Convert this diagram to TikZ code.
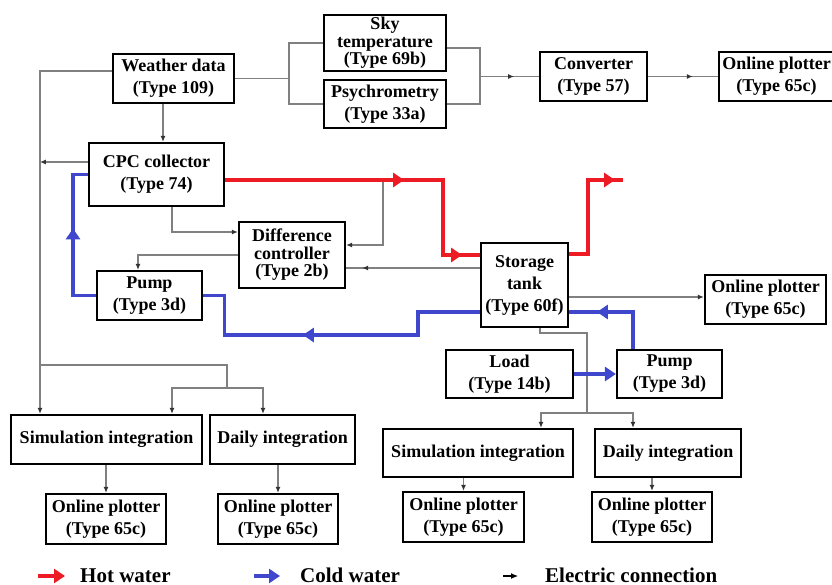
\documentclass[tikz,border=0pt]{standalone}
\usepackage{fontspec}
\setmainfont{Liberation Serif}
\usetikzlibrary{arrows.meta,decorations.markings}
\definecolor{hotred}{RGB}{237,28,36}
\definecolor{coldblue}{RGB}{63,72,204}
\definecolor{wiregray}{RGB}{128,128,128}

\begin{document}
\begin{tikzpicture}[x=1pt, y=-1pt, >={Latex[length=6pt,width=5pt,color=black!80]},
  blk/.style={draw, line width=2.2pt, align=center, inner sep=0pt, font=\bfseries\fontsize{18}{22}\selectfont},
  tight/.style={font=\bfseries\fontsize{18}{17.5}\selectfont},
  elec/.style={wiregray, line width=1.3pt},
  hot/.style={hotred, line width=3.2pt},
  cold/.style={coldblue, line width=3.2pt},
  htip/.style={postaction={decorate, decoration={markings, mark=at position #1 with {\arrow{Triangle[length=11pt,width=14pt]}}}}},
  etip/.style={postaction={decorate, decoration={markings, mark=at position #1 with {\arrow{Latex[length=6pt,width=5pt,color=black!80]}}}}},
  legend/.style={anchor=base west, inner sep=0pt, font=\bfseries\fontsize{21}{21}\selectfont}]
\useasboundingbox (0,0) rectangle (832,585);

\node[blk, minimum width=121pt, minimum height=49pt] (wea) at (173.5,78.5) {Weather data\\(Type 109)};
\node[blk, tight, minimum width=122pt, minimum height=56pt] (sky) at (385,43) {Sky\\temperature\\(Type 69b)};
\node[blk, minimum width=122pt, minimum height=48pt] (psy) at (385,104) {Psychrometry\\(Type 33a)};
\node[blk, minimum width=107pt, minimum height=49pt] (conv) at (593.5,76.5) {Converter\\(Type 57)};
\node[blk, minimum width=115pt, minimum height=49pt] (plt1) at (776.5,76.5) {Online plotter\\(Type 65c)};
\node[blk, minimum width=135pt, minimum height=63pt] (cpc) at (156.5,174.5) {CPC collector\\(Type 74)};
\node[blk, tight, minimum width=106pt, minimum height=66pt] (diff) at (292,255) {Difference\\controller\\(Type 2b)};
\node[blk, minimum width=105pt, minimum height=49pt] (pmp1) at (149.5,295.5) {Pump\\(Type 3d)};
\node[blk, minimum width=87pt, minimum height=84pt] (tank) at (524.5,285) {Storage\\tank\\(Type 60f)};
\node[blk, minimum width=121pt, minimum height=49pt] (plt2) at (765.5,299.5) {Online plotter\\(Type 65c)};
\node[blk, minimum width=127pt, minimum height=48pt] (load) at (509.5,374) {Load\\(Type 14b)};
\node[blk, minimum width=105pt, minimum height=48pt] (pmp2) at (669.5,374) {Pump\\(Type 3d)};
\node[blk, minimum width=191pt, minimum height=49pt] (sim1) at (106.5,439.5) {Simulation integration};
\node[blk, minimum width=145pt, minimum height=49pt] (day1) at (282.5,439.5) {Daily integration};
\node[blk, minimum width=120pt, minimum height=50pt] (plt3) at (106,519) {Online plotter\\(Type 65c)};
\node[blk, minimum width=120pt, minimum height=50pt] (plt4) at (278,519) {Online plotter\\(Type 65c)};
\node[blk, minimum width=190pt, minimum height=48pt] (sim2) at (478,453) {Simulation integration};
\node[blk, minimum width=146pt, minimum height=48pt] (day2) at (668,453) {Daily integration};
\node[blk, minimum width=121pt, minimum height=50pt] (plt5) at (463.5,517) {Online plotter\\(Type 65c)};
\node[blk, minimum width=120pt, minimum height=50pt] (plt6) at (652,517) {Online plotter\\(Type 65c)};

\coordinate (bus) at (40,71);
\coordinate (j0) at (40,365);
\coordinate (j1) at (227,388);
\coordinate (j2) at (587,413);
\coordinate (spl) at (289,78.5);
\coordinate (mrg) at (480,76.5);
\coordinate (tap) at (383,180);
\coordinate (rv) at (443,255);
\coordinate (hout) at (623,180);
\coordinate (cw) at (73,174.5);
\coordinate (cb) at (418,335);

\draw[elec,->] ([yshift=7.5pt]wea.west) -- (bus) -- (bus |- sim1.north);
\draw[elec,->] ([yshift=12.5pt]cpc.west) -- +(-48,0);
\draw[elec] (j0) -| (j1);
\draw[elec,->] (j1) -| ([xshift=65.5pt]sim1.north);
\draw[elec,->] (j1) -| ([xshift=-19.5pt]day1.north);
\draw[elec,->] ([xshift=-10.5pt]wea.south) -- ([xshift=6.5pt]cpc.north);
\draw[elec] (wea.east) -- (spl);
\draw[elec] (sky.west) -| (spl) |- (psy.west);
\draw[elec] ([yshift=-5pt]sky.east) -| (mrg) |- (psy.east);
\draw[elec, etip=0.58] (mrg) -- (conv.west);
\draw[elec, etip=0.64] (conv.east) -- (plt1.west);
\draw[elec,->] ([xshift=15.5pt]cpc.south) |- ([yshift=23pt]diff.west);
\draw[elec,->] (tap) |- ([yshift=10pt]diff.east);
\draw[elec, etip=0.88] ([yshift=17pt]tank.west) -- ([yshift=-13pt]diff.east);
\draw[elec,->] (diff.west) -| ([xshift=-11.5pt]pmp1.north);
\draw[elec,->] ([yshift=-12pt]tank.east) -- ([yshift=2.5pt]plt2.west);
\draw[elec] ([xshift=15.5pt]tank.south) -- +(0,5) -| (j2);
\draw[elec,->] (j2) -| ([xshift=63pt]sim2.north);
\draw[elec,->] (j2) -| ([xshift=-35pt]day2.north);
\draw[elec,->] (sim1.south -| plt3.north) -- (plt3.north);
\draw[elec,->] (day1.south -| plt4.north) -- (plt4.north);
\draw[elec,->] (sim2.south -| plt5.north) -- (plt5.north);
\draw[elec,->] (day2.south -| plt6.north) -- (plt6.north);

\draw[hot, htip=179pt, htip=312pt] ([yshift=-5.5pt]cpc.east) -| (rv) -- ([yshift=30pt]tank.west);
\draw[hot, htip=120pt] ([yshift=31pt]tank.east) -| ([xshift=-35pt]hout) -- (hout);

\draw[cold, htip=90pt] (pmp1.west) -| (cw) -- (cpc.west);
\draw[cold, htip=200pt] ([yshift=-27pt]tank.west) -| (cb) -| ([xshift=21pt]pmp1.east) -- (pmp1.east);
\draw[cold, htip=73pt] ([xshift=-36.5pt]pmp2.north) |- ([yshift=-27pt]tank.east);
\draw[cold, -{Triangle[length=11pt,width=14pt]}] (load.east) -- (pmp2.west);

\node[legend] (lhot) at (80,582) {Hot water};
\node[legend] (lcold) at (300,582) {Cold water};
\node[legend] (lelec) at (545,582) {Electric connection};
\draw[hot, -{Triangle[length=11pt,width=14pt]}] ([xshift=-42pt,yshift=6pt]lhot.base west) -- ([xshift=-15pt,yshift=6pt]lhot.base west);
\draw[cold, -{Triangle[length=11pt,width=14pt]}] ([xshift=-46pt,yshift=6pt]lcold.base west) -- ([xshift=-20pt,yshift=6pt]lcold.base west);
\draw[black, line width=1.1pt, -{Latex[length=7pt,width=6pt]}] ([xshift=-42pt,yshift=6pt]lelec.base west) -- ([xshift=-27pt,yshift=6pt]lelec.base west);
\end{tikzpicture}
\end{document}
